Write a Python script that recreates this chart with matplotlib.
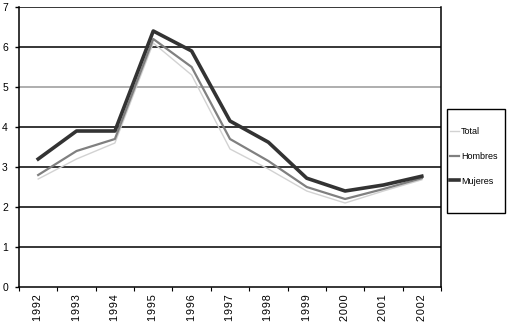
import matplotlib
matplotlib.use("Agg")
import matplotlib.pyplot as plt
from matplotlib.lines import Line2D
from matplotlib.patches import Rectangle

plt.rcParams['font.family'] = ['Liberation Sans', 'DejaVu Sans']

years = ['1992', '1993', '1994', '1995', '1996', '1997', '1998', '1999', '2000', '2001', '2002']
total = [2.7, 3.2, 3.6, 6.1, 5.3, 3.45, 2.95, 2.4, 2.1, 2.4, 2.68]
hombres = [2.8, 3.4, 3.7, 6.2, 5.5, 3.7, 3.15, 2.5, 2.2, 2.45, 2.72]
mujeres = [3.2, 3.9, 3.9, 6.4, 5.9, 4.15, 3.62, 2.72, 2.4, 2.55, 2.77]
yticks = [0, 1, 2, 3, 4, 5, 6, 7]

W, H = 508, 324
fig = plt.figure(figsize=(W / 100, H / 100), dpi=100)
ax = fig.add_axes([19 / W, 1 - 287 / H, (441 - 19) / W, (287 - 7) / H])

x = [i + 0.5 for i in range(len(years))]
ax.set_xlim(0, len(years))
ax.set_ylim(0, 7)

for yv in yticks[1:]:
    ax.axhline(yv, color='#999999' if yv == 5 else 'black', lw=1.1, zorder=1)

ax.plot(x, total, color='#d2d2d2', lw=1.0, zorder=3)
ax.plot(x, hombres, color='#808080', lw=1.6, zorder=4)
ax.plot(x, mujeres, color='#333333', lw=2.6, zorder=5)

ax.spines['top'].set_visible(False)
for s in ['left', 'right', 'bottom']:
    ax.spines[s].set_color('black')
    ax.spines[s].set_linewidth(1.1)

ax.set_yticks(yticks)
ax.set_yticklabels([str(v) for v in yticks], fontsize=7.5)
ax.tick_params(axis='y', length=3, width=1.0, direction='out', pad=5)

ax.set_xticks(range(len(years) + 1))
ax.set_xticklabels([])
ax.tick_params(axis='x', length=3, width=0.8, direction='out')
ax.set_xticks(x, minor=True)
ax.set_xticklabels(['\u200a'.join(y) for y in years], minor=True, rotation=90, fontsize=7.8)
ax.tick_params(axis='x', which='minor', length=0, pad=5)

# legend box
fig.add_artist(Rectangle((447 / W, 1 - 213 / H), (505 - 447) / W, (213 - 109) / H,
                         transform=fig.transFigure, fill=False, edgecolor='black', lw=1.0))
handles = [Line2D([], [], color='#d2d2d2', lw=1.0),
           Line2D([], [], color='#808080', lw=1.6),
           Line2D([], [], color='#333333', lw=2.6)]
leg = fig.legend(handles, ['Total', 'Hombres', 'Mujeres'], loc='upper left',
                 bbox_to_anchor=(449.5 / W, 1 - 127 / H), fontsize=6.5,
                 frameon=False, handlelength=1.0, handletextpad=0.25,
                 borderpad=0.0, labelspacing=1.75, borderaxespad=0)

fig.savefig('out.png', dpi=100)
